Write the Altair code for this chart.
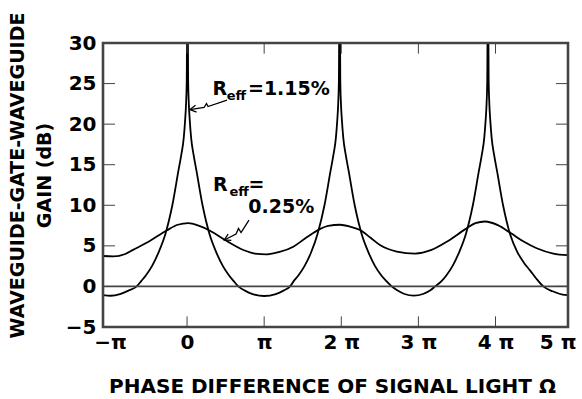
import altair as alt
import pandas as pd

# Phase difference in units of pi, gain in dB
phase_r115 = [-1.09, -0.99, -0.87, -0.76,
              -0.653, -0.595, -0.535, -0.455, -0.365, -0.28, -0.191, -0.113, -0.075,
              -0.043, -0.025, -0.013, -0.004, 0.005, 0.014, 0.023, 0.035, 0.053, 0.085,
              0.123, 0.201, 0.29, 0.375, 0.465, 0.545, 0.605, 0.665,
              0.75, 0.85, 1.0, 1.15, 1.25,
              1.335, 1.383, 1.443, 1.523, 1.613, 1.693, 1.782, 1.86, 1.898, 1.93, 1.948,
              1.96, 1.969, 1.978, 1.987, 1.996, 2.008, 2.026, 2.058, 2.096, 2.174, 2.263,
              2.348, 2.438, 2.52, 2.585, 2.654,
              2.72, 2.82, 2.94, 3.06, 3.16,
              3.216, 3.30, 3.362, 3.442, 3.532, 3.617, 3.706, 3.784, 3.822, 3.854, 3.872,
              3.884, 3.893, 3.902, 3.911, 3.920, 3.932, 3.950, 3.982, 4.020, 4.098, 4.187,
              4.28, 4.37, 4.45, 4.53, 4.62,
              4.74, 4.87, 4.936]
gain_r115 = [-1.08, -1.15, -0.95, -0.52,
             0.0, 0.65, 1.35, 2.5, 4.3, 6.5, 10.0, 14.2, 16.2,
             18.3, 20.5, 22.5, 25.5, 40.0, 25.5, 22.5, 20.5, 18.3, 16.2,
             14.2, 10.0, 6.5, 4.3, 2.5, 1.35, 0.65, 0.0,
             -0.52, -0.94, -1.18, -0.94, -0.52,
             0.0, 0.65, 1.35, 2.5, 4.3, 6.5, 10.0, 14.2, 16.2, 18.3, 20.5,
             22.5, 25.5, 40.0, 25.5, 22.5, 20.5, 18.3, 16.2, 14.2, 10.0, 6.5,
             4.3, 2.5, 1.35, 0.65, 0.0,
             -0.44, -0.93, -1.14, -0.93, -0.44,
             0.0, 0.65, 1.35, 2.5, 4.3, 6.5, 10.0, 14.2, 16.2, 18.3, 20.5,
             22.5, 25.5, 40.0, 25.5, 22.5, 20.5, 18.3, 16.2, 14.2, 10.0, 6.5,
             4.3, 2.9, 1.95, 0.95, 0.0,
             -0.6, -1.0, -1.06]

phase_r025 = [-1.09, -0.96, -0.80, -0.70, -0.50, -0.264, -0.12, 0.016, 0.15, 0.298,
              0.492, 0.73, 0.88, 1.03, 1.2, 1.378, 1.53, 1.681, 1.83, 1.984, 2.12,
              2.243, 2.38, 2.502, 2.72, 2.956, 3.17, 3.367, 3.605, 3.74, 3.864, 4.03,
              4.201, 4.37, 4.534, 4.75, 4.936]
gain_r025 = [3.75, 3.7, 4.0, 4.5, 5.5, 6.9, 7.6, 7.8, 7.5, 6.87,
             5.72, 4.49, 4.05, 3.95, 4.25, 4.9, 5.9, 6.85, 7.45, 7.6, 7.35,
             6.95, 6.0, 5.1, 4.3, 4.05, 4.5, 5.5, 7.03, 7.8, 8.0, 7.55,
             6.54, 5.5, 4.7, 4.05, 3.85]

# Axis ticks and their labels
x_tick_values = [-1, 0, 1, 2, 3, 4, 4.94]
x_tick_labels = ["\u2212\u03c0", "0", "\u03c0", "2 \u03c0", "3 \u03c0", "4 \u03c0", "5 \u03c0"]
y_tick_values = [-5, 0, 5, 10, 15, 20, 25, 30]
frame_x_ticks = [0, 1, 2, 3, 4]
frame_y_ticks_left = [5, 10, 15, 20, 25]
frame_y_ticks_right = [0, 5, 10, 15, 20, 25]

# Curve labels: R with subscript "eff"
label_text = ["R", "eff", "=1.15%", "R", "eff", "=", "0.25%"]
label_phase = [0.33, 0.515, 0.79, 0.337, 0.55, 0.797, 0.794]
label_gain = [23.59, 23.03, 23.59, 11.76, 11.2, 11.76, 9.01]
label_size = [19, 13, 19, 19, 13, 19, 19]

# Zig-zag pointers from the labels to the curves
arrow_id = ["a1"] * 5 + ["a1h"] * 3 + ["a2"] * 5 + ["a2h"] * 3
arrow_phase = [0.038, 0.22, 0.252, 0.272, 0.518,
               0.110, 0.038, 0.123,
               0.483, 0.635, 0.667, 0.70, 0.803,
               0.532, 0.483, 0.574]
arrow_gain = [21.8, 22.05, 22.54, 22.17, 22.97,
              22.33, 21.8, 21.48,
              5.72, 6.46, 7.14, 6.64, 8.18,
              6.45, 5.72, 5.67]

FONT = "DejaVu Sans"
FRAME_INK = "#444444"
X_DOMAIN = [-1.09, 4.94]
Y_DOMAIN = [-5, 30]
TICK_LEN_Y = 1.25   # inward tick length on the bottom/top frame, in dB
TICK_LEN_X = 0.15   # inward tick length on the left/right frame, in units of pi

curves = pd.concat([
    pd.DataFrame({"phase": phase_r115, "gain": gain_r115, "series": "1.15%"}),
    pd.DataFrame({"phase": phase_r025, "gain": gain_r025, "series": "0.25%"}),
])
labels = pd.DataFrame({"text": label_text, "phase": label_phase,
                       "gain": label_gain, "size": label_size})
arrows = pd.DataFrame({"arrow": arrow_id, "phase": arrow_phase, "gain": arrow_gain,
                       "order": list(range(len(arrow_id)))})

# Frame outline, zero line and inward tick segments, drawn as polylines
seg_rows = []


def add_segment(name, kind, points):
    for i, (p, g) in enumerate(points):
        seg_rows.append({"seg": name, "kind": kind, "order": i, "phase": p, "gain": g})


x0, x1 = X_DOMAIN
y0, y1 = Y_DOMAIN
add_segment("frame", "frame", [(x0, y0), (x1, y0), (x1, y1), (x0, y1), (x0, y0)])
add_segment("zero", "zero", [(x0, 0.0), (x1, 0.0)])
for p in frame_x_ticks:
    add_segment(f"b{p}", "tick", [(p, y0), (p, y0 + TICK_LEN_Y)])
    add_segment(f"t{p}", "tick", [(p, y1), (p, y1 - TICK_LEN_Y)])
for g in frame_y_ticks_left:
    add_segment(f"l{g}", "tick", [(x0, g), (x0 + TICK_LEN_X, g)])
for g in frame_y_ticks_right:
    add_segment(f"r{g}", "tick", [(x1, g), (x1 - TICK_LEN_X, g)])
segments = pd.DataFrame(seg_rows)

xs = alt.Scale(domain=X_DOMAIN, nice=False, zero=False)
ys = alt.Scale(domain=Y_DOMAIN, nice=False, zero=False)

label_js = "[" + ",".join("'" + t + "'" for t in x_tick_labels) + "]"

x_axis = alt.Axis(
    values=x_tick_values,
    labelExpr=f"{label_js}[round(datum.value) + 1]",
    title="PHASE DIFFERENCE OF SIGNAL LIGHT \u03a9",
    titleFont=FONT, titleFontSize=20, titleFontWeight="bold", titleColor="black",
    titleX=229, titleY=65, titleAlign="center", titleBaseline="alphabetic",
    labelFont=FONT, labelFontSize=20, labelFontWeight="bold", labelColor="black",
    labelFlush=True, labelFlushOffset=8, labelPadding=5,
    ticks=False, tickSize=0, domain=False, grid=False,
)
y_axis = alt.Axis(
    values=y_tick_values,
    labelExpr="datum.value < 0 ? '\u2212' + (-datum.value) : datum.label",
    title=["WAVEGUIDE-GATE-WAVEGUIDE", "GAIN (dB)"],
    titleFont=FONT, titleFontSize=19, titleFontWeight="bold", titleColor="black",
    titleAngle=270, titleX=-95, titleY=132, titleAlign="center", titleBaseline="top",
    titleLineHeight=27,
    labelFont=FONT, labelFontSize=20, labelFontWeight="bold", labelColor="black",
    labelPadding=7, ticks=False, tickSize=0, domain=False, grid=False,
)

curve_layer = alt.Chart(curves).mark_line(
    color="black", strokeWidth=1.8, interpolate="monotone", clip=True
).encode(
    x=alt.X("phase:Q", scale=xs, axis=x_axis),
    y=alt.Y("gain:Q", scale=ys, axis=y_axis),
    detail="series:N",
)

segment_layer = alt.Chart(segments).mark_line(strokeCap="square").encode(
    x=alt.X("phase:Q", scale=xs),
    y=alt.Y("gain:Q", scale=ys),
    detail="seg:N",
    order="order:Q",
    strokeWidth=alt.StrokeWidth(
        "kind:N",
        scale=alt.Scale(domain=["frame", "zero", "tick"], range=[2.6, 1.0, 1.8]),
        legend=None,
    ),
    color=alt.Color(
        "kind:N",
        scale=alt.Scale(domain=["frame", "zero", "tick"],
                        range=[FRAME_INK, "#444444", FRAME_INK]),
        legend=None,
    ),
)

label_layer = alt.Chart(labels).mark_text(
    align="left", baseline="alphabetic", font=FONT, fontWeight="bold", color="black"
).encode(
    x=alt.X("phase:Q", scale=xs),
    y=alt.Y("gain:Q", scale=ys),
    text="text:N",
    size=alt.Size("size:Q", scale=None),
)

arrow_layer = alt.Chart(arrows).mark_line(color="black", strokeWidth=1.3).encode(
    x=alt.X("phase:Q", scale=xs),
    y=alt.Y("gain:Q", scale=ys),
    detail="arrow:N",
    order="order:Q",
)

chart = alt.layer(
    curve_layer, segment_layer, arrow_layer, label_layer,
).properties(
    width=465, height=284,
    autosize=alt.AutoSizeParams(type="none"),
    padding={"left": 103, "top": 43, "right": 14, "bottom": 72},
).configure_view(
    strokeWidth=0
)

chart.save("out.html", embed_options={"renderer": "svg", "actions": False})
